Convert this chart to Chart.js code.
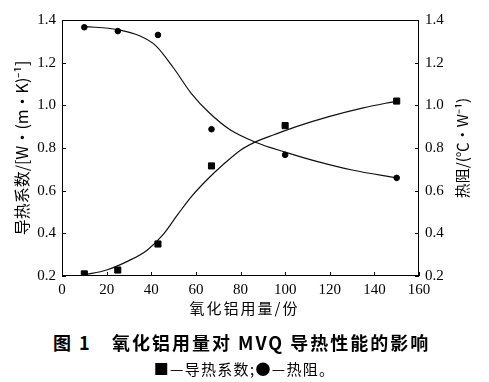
<!DOCTYPE html>
<html><head><meta charset="utf-8">
<script src="https://cdn.jsdelivr.net/npm/chart.js@4"></script>
<style>
body{margin:0;background:#fff;width:489px;height:382px;position:relative;overflow:hidden}
#wrap{position:absolute;left:0;top:0;width:489px;height:322px}
.t{position:absolute;font-family:"Noto Sans CJK SC";color:#000;white-space:pre}
</style></head><body>
<div id="wrap"><canvas id="c"></canvas></div>
<div class="t" id="xt" style="left:0;width:489px;text-align:center;top:300px;font-size:15px;line-height:16px;letter-spacing:2px"></div>
<div class="t" style="left:53px;top:332px;font-size:18px;line-height:20px;font-weight:bold;letter-spacing:2px">图 1</div>
<div class="t" style="left:112px;top:332px;font-size:18px;line-height:20px;font-weight:bold;letter-spacing:2px">氧化铝用量对 MVQ 导热性能的影响</div>
<div class="t" style="left:0;width:489px;text-align:center;top:361px;font-size:15px;line-height:16px;letter-spacing:1.3px">■—导热系数;●—热阻。</div>
<script>
// measured points
const aluminaParts = [10, 25, 43, 67, 100, 150];
const conductivity = [0.21, 0.228, 0.35, 0.716, 0.905, 1.02];
const resistance = [1.366, 1.348, 1.33, 0.888, 0.768, 0.66];
// fitted curves
const fitCondX = [10, 20, 30, 38, 45, 52, 58, 65, 72, 80, 87, 95, 105, 120, 135, 150];
const fitCondY = [0.205, 0.228, 0.272, 0.32, 0.39, 0.49, 0.572, 0.651, 0.72, 0.79, 0.83, 0.862, 0.9, 0.948, 0.988, 1.02];
const fitResX = [10, 25, 35, 42, 50, 58, 66, 75, 87, 100, 115, 130, 150];
const fitResY = [1.37, 1.355, 1.325, 1.28, 1.175, 1.055, 0.965, 0.888, 0.826, 0.781, 0.735, 0.697, 0.66];
const xTicks = [0, 20, 40, 60, 80, 100, 120, 140, 160];
const yTicks = [0.2, 0.4, 0.6, 0.8, 1.0, 1.2, 1.4];
const xTitle = '氧化铝用量/份';
const yLeftTitle = '导热系数/[W·(m·K)⁻¹]';
const yRightTitle = '热阻/(℃·W⁻¹)';

document.getElementById('xt').textContent = xTitle;

const pts = (xs, ys) => xs.map((x, i) => ({x, y: ys[i]}));
const tickFont = {family: '"Liberation Serif"', size: 15};
const cjk = '"Noto Sans CJK SC"';

const frame = {
  id: 'frame',
  afterDraw(ch) {
    const {ctx, chartArea: a, scales} = ch;
    ctx.save();
    ctx.strokeStyle = '#000';
    ctx.lineWidth = 1;
    ctx.strokeRect(a.left + 0.5, a.top + 0.5, a.right - a.left - 1, a.bottom - a.top - 1);
    ctx.beginPath();
    scales.x.ticks.forEach(t => { const p = Math.round(scales.x.getPixelForValue(t.value)) + 0.5; ctx.moveTo(p, a.bottom); ctx.lineTo(p, a.bottom - 4); });
    scales.y.ticks.forEach(t => { const p = Math.round(scales.y.getPixelForValue(t.value)) + 0.5; ctx.moveTo(a.left, p); ctx.lineTo(a.left + 4, p); });
    scales.y1.ticks.forEach(t => { const p = Math.round(scales.y1.getPixelForValue(t.value)) + 0.5; ctx.moveTo(a.right, p); ctx.lineTo(a.right - 4, p); });
    ctx.stroke();
    ctx.fillStyle = '#000';
    ctx.textAlign = 'center';
    ctx.textBaseline = 'middle';
    const cy = (a.top + a.bottom) / 2;
    ctx.save();
    ctx.translate(22, cy);
    ctx.rotate(-Math.PI / 2);
    ctx.font = '16px ' + cjk;
    ctx.fillText(yLeftTitle, 0, 0);
    ctx.restore();
    ctx.translate(462, cy);
    ctx.rotate(-Math.PI / 2);
    ctx.font = '15px ' + cjk;
    ctx.fillText(yRightTitle, 0, 0);
    ctx.restore();
  }
};

const yScale = (pos, w) => ({
  type: 'linear', position: pos, min: yTicks[0], max: yTicks[yTicks.length - 1],
  afterBuildTicks: s => { s.ticks = yTicks.map(v => ({value: v})); },
  afterFit: s => { s.width = w; },
  ticks: {font: tickFont, color: '#000', padding: 6, callback: v => Number(v).toFixed(1)},
  grid: {display: false, drawTicks: false},
  border: {display: false}
});

new Chart(document.getElementById('c'), {
  type: 'scatter',
  data: {
    datasets: [
      {data: pts(aluminaParts, conductivity), yAxisID: 'y', pointStyle: 'rect', pointRadius: 4.3, backgroundColor: '#000', borderColor: '#000', showLine: false},
      {data: pts(aluminaParts, resistance), yAxisID: 'y1', pointStyle: 'circle', pointRadius: 2.8, backgroundColor: '#000', borderColor: '#000', showLine: false},
      {data: pts(fitCondX, fitCondY), yAxisID: 'y', showLine: true, pointRadius: 0, borderColor: '#111', borderWidth: 1.2, cubicInterpolationMode: 'monotone'},
      {data: pts(fitResX, fitResY), yAxisID: 'y1', showLine: true, pointRadius: 0, borderColor: '#111', borderWidth: 1.2, cubicInterpolationMode: 'monotone'}
    ]
  },
  options: {
    responsive: true, maintainAspectRatio: false, animation: false, devicePixelRatio: 1,
    layout: {padding: {top: 20, left: 0, right: 0, bottom: 0}},
    plugins: {legend: {display: false}, tooltip: {enabled: false}},
    scales: {
      x: {
        type: 'linear', min: 0, max: 160,
        afterBuildTicks: s => { s.ticks = xTicks.map(v => ({value: v})); },
        afterFit: s => { s.height = 46; },
        ticks: {font: tickFont, color: '#000', padding: 5},
        grid: {display: false, drawTicks: false},
        border: {display: false}
      },
      y: yScale('left', 62),
      y1: yScale('right', 70)
    }
  },
  plugins: [frame]
});
</script>
</body></html>
